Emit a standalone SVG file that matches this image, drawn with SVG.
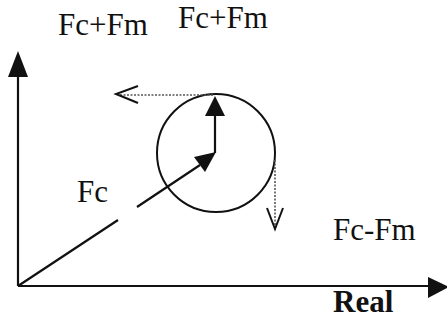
<svg xmlns="http://www.w3.org/2000/svg" width="447" height="320" viewBox="0 0 447 320">
<style>
.t{font-family:"Liberation Serif","Times New Roman",serif;font-size:31px;fill:#111}
.b{font-weight:bold}
.ax{stroke:#111;stroke-width:2.2;fill:none}
.dot{stroke:#555;stroke-width:1.6;stroke-dasharray:2 1.5;fill:none}
.open{stroke:#111;stroke-width:2;fill:none}
.head{fill:#111}
</style>
<rect width="447" height="320" fill="#fff"/>
<g id="axes">
<path class="ax" d="M18 286 V75"/>
<path class="head" d="M18 51 L8 77 L28 77 Z"/>
<path class="ax" d="M18 286 H430"/>
<path class="head" d="M449 287 L428 277 L428 298 Z"/>
</g>
<g id="circle">
<circle cx="216" cy="153" r="59" fill="none" stroke="#111" stroke-width="2"/>
</g>
<g id="connectors">
<path class="ax" d="M18 286 L118 220 M137 207 L200 165"/>
<path class="head" d="M216 152 L194 157 L205 172 Z"/>
<path class="ax" d="M215 153 V112"/>
<path class="head" d="M215 96 L205 116 L225 116 Z"/>
<path class="dot" d="M213 95 H120"/>
<path class="open" d="M138 86 L116 94 L138 103"/>
<path class="dot" d="M275 160 V226"/>
<path class="open" d="M267 208 L275 229 L283 208"/>
</g>
<g id="labels">
<text class="t" x="58" y="35">Fc+Fm</text>
<text class="t" x="178" y="28">Fc+Fm</text>
<text class="t" x="77" y="202">Fc</text>
<text class="t" x="333" y="240">Fc-Fm</text>
<text class="t b" x="333" y="312">Real</text>
</g>
</svg>
